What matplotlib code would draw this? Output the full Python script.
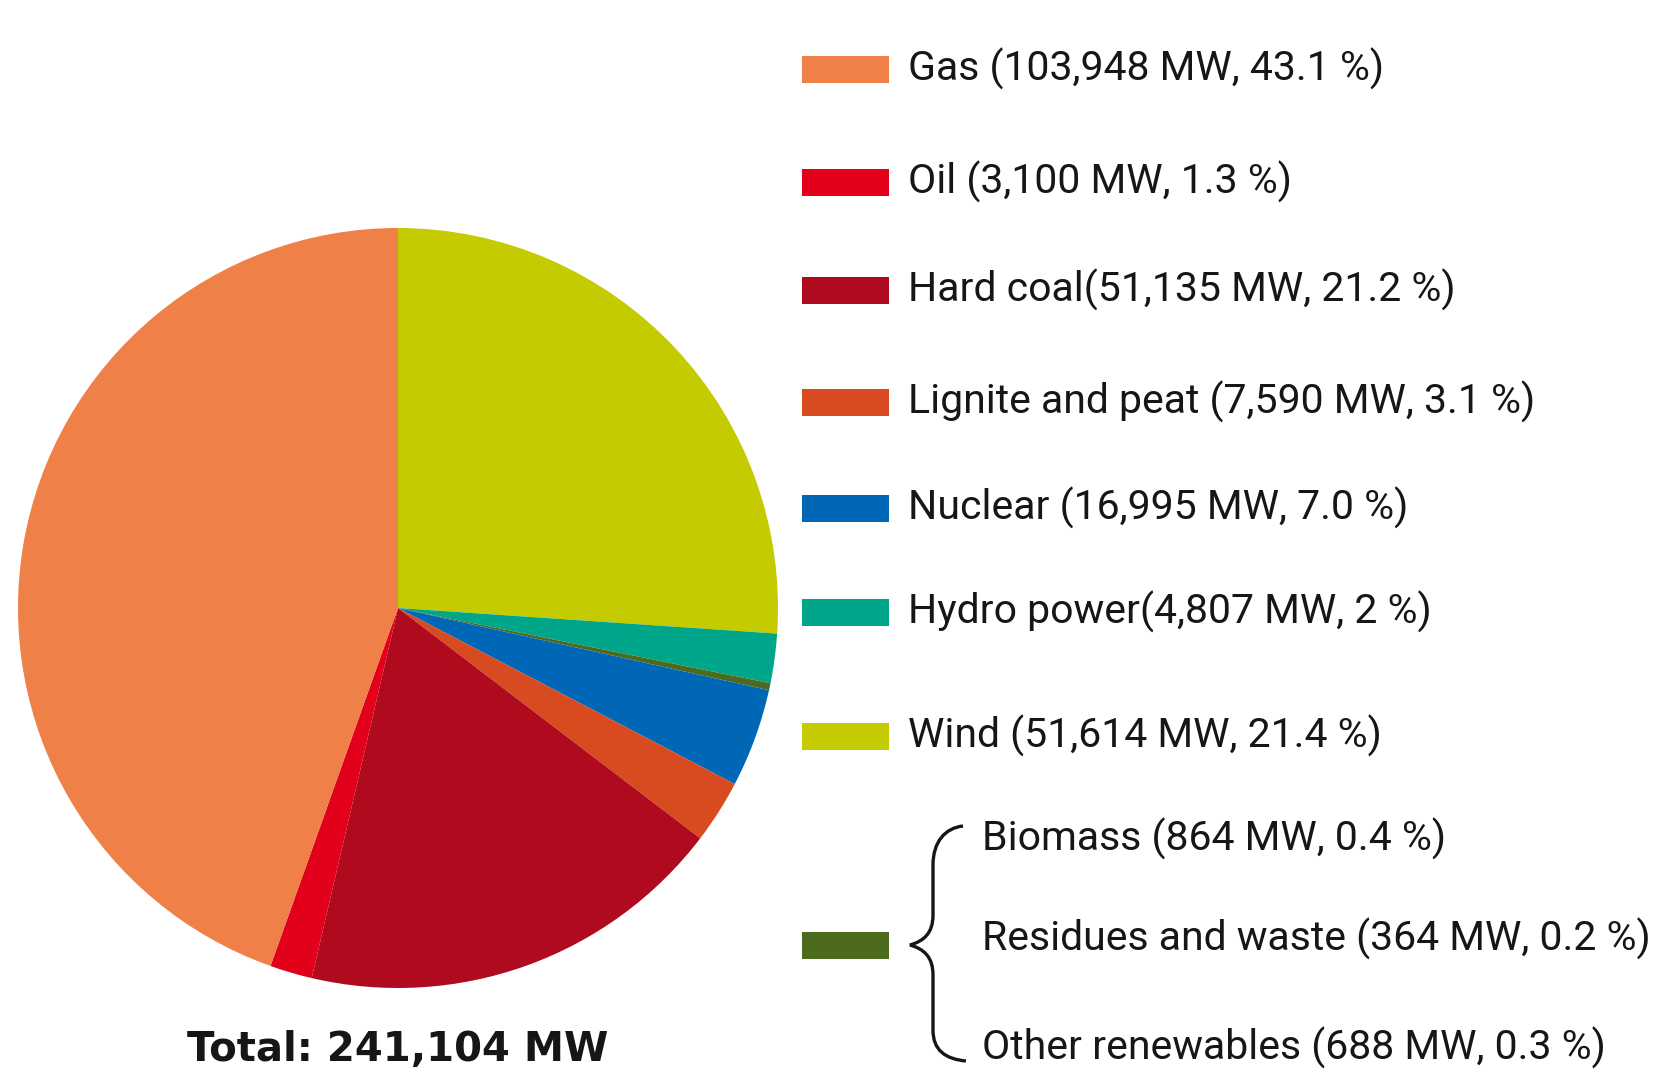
import matplotlib
matplotlib.use('Agg')
import matplotlib.pyplot as plt
from matplotlib.patches import Rectangle, PathPatch
from matplotlib.path import Path

plt.rcParams['font.family'] = ['Roboto', 'DejaVu Sans']

# legend entries (as printed)
names = ['Gas', 'Oil', 'Hard coal', 'Lignite and peat', 'Nuclear', 'Hydro power', 'Wind']
mw = ['103,948', '3,100', '51,135', '7,590', '16,995', '4,807', '51,614']
pct = ['43.1', '1.3', '21.2', '3.1', '7.0', '2', '21.4']
sep = [' (', ' (', '(', ' (', ' (', '(', ' (']
colors = ['#EE8048', '#E2001A', '#B00A1E', '#D84A1F', '#0067B6', '#00A68A', '#C4CB00']

sub_names = ['Biomass', 'Residues and waste', 'Other renewables']
sub_mw = ['864', '364', '688']
sub_pct = ['0.4', '0.2', '0.3']
renew_color = '#4D6B1E'

# slice shares as drawn in the pie (clockwise from 12 o'clock)
pie_labels = ['Wind', 'Hydro power', 'Other', 'Nuclear', 'Lignite and peat', 'Hard coal', 'Oil', 'Gas']
pie_share = [26.1, 2.1, 0.3, 4.2, 2.7, 18.3, 1.8, 44.6]
pie_colors = ['#C4CB00', '#00A68A', renew_color, '#0067B6', '#D84A1F', '#B00A1E', '#E2001A', '#EE8048']

total = 'Total: 241,104 MW'

W, H = 1655, 1073
fig = plt.figure(figsize=(W / 100, H / 100), dpi=100)

# pie
cx, cy, r = 398, 608, 380
ax = fig.add_axes([(cx - r) / W, 1 - (cy + r) / H, 2 * r / W, 2 * r / H])
ax.pie(pie_share, colors=pie_colors, startangle=90, counterclock=False,
       wedgeprops=dict(linewidth=0))
ax.set_xlim(-1, 1)
ax.set_ylim(-1, 1)
ax.set_aspect('equal')
ax.axis('off')

# overlay in pixel coords for legend / text
ov = fig.add_axes([0, 0, 1, 1])
ov.set_xlim(0, W)
ov.set_ylim(H, 0)
ov.axis('off')

txt = dict(fontsize=29.5, va='center', ha='left', color='#161616')

row_y = [69, 182, 290, 402, 508, 612, 736]
for i in range(len(names)):
    ov.add_patch(Rectangle((802, row_y[i] - 13), 87, 27, color=colors[i], lw=0))
    ov.text(908, row_y[i], names[i] + sep[i] + mw[i] + ' MW, ' + pct[i] + ' %)', **txt)

ov.add_patch(Rectangle((802, 932), 87, 27, color=renew_color, lw=0))
sub_y = [839, 939, 1048]
for i in range(len(sub_names)):
    ov.text(982, sub_y[i], sub_names[i] + ' (' + sub_mw[i] + ' MW, ' + sub_pct[i] + ' %)', **txt)

# curly brace
verts = [(963, 826), (945, 828), (933, 842), (933, 865),
         (933, 915),
         (933, 933), (924, 941), (910, 945),
         (924, 949), (933, 957), (933, 975),
         (933, 1030),
         (933, 1050), (945, 1059), (966, 1061)]
codes = [Path.MOVETO, Path.CURVE4, Path.CURVE4, Path.CURVE4,
         Path.LINETO,
         Path.CURVE4, Path.CURVE4, Path.CURVE4,
         Path.CURVE4, Path.CURVE4, Path.CURVE4,
         Path.LINETO,
         Path.CURVE4, Path.CURVE4, Path.CURVE4]
ov.add_patch(PathPatch(Path(verts, codes), fill=False, lw=2.4, color='#161616'))

ov.text(398, 1050, total, fontsize=29, fontweight='bold', family='DejaVu Sans',
        ha='center', va='center', color='#161616')

fig.savefig('out.png', dpi=100)
